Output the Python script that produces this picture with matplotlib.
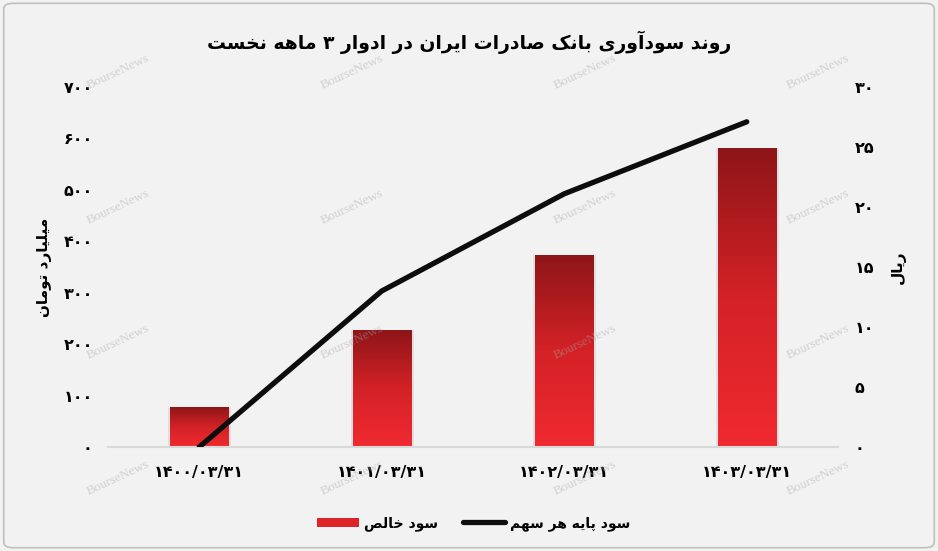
import matplotlib
matplotlib.use("Agg")
import matplotlib.pyplot as plt
import numpy as np
from matplotlib.colors import LinearSegmentedColormap
from matplotlib.patches import FancyBboxPatch, Patch
from matplotlib.lines import Line2D

# --- data -------------------------------------------------------------
periods = ["۱۴۰۰/۰۳/۳۱", "۱۴۰۱/۰۳/۳۱", "۱۴۰۲/۰۳/۳۱", "۱۴۰۳/۰۳/۳۱"]
net_profit = [76, 227, 373, 581]      # میلیارد تومان
eps = [0, 13.0, 21.1, 27.1]           # ریال
left_ticks = [0, 100, 200, 300, 400, 500, 600, 700]
right_ticks = [0, 5, 10, 15, 20, 25, 30]

title = "روند سودآوری بانک صادرات ایران در ادوار ۳ ماهه نخست"
left_label = "میلیارد تومان"
right_label = "ریال"
bar_name = "سود خالص"
line_name = "سود پایه هر سهم"

# --- minimal persian shaping (matplotlib has no bidi/shaping) ----------
# char: (isolated, final, initial, medial); right-joining letters have no initial/medial
FORMS = {
    "ا": ("\uFE8D", "\uFE8E", None, None),
    "آ": ("\uFE81", "\uFE82", None, None),
    "ب": ("\uFE8F", "\uFE90", "\uFE91", "\uFE92"),
    "پ": ("\uFB56", "\uFB57", "\uFB58", "\uFB59"),
    "ت": ("\uFE95", "\uFE96", "\uFE97", "\uFE98"),
    "خ": ("\uFEA5", "\uFEA6", "\uFEA7", "\uFEA8"),
    "د": ("\uFEA9", "\uFEAA", None, None),
    "ر": ("\uFEAD", "\uFEAE", None, None),
    "ز": ("\uFEAF", "\uFEB0", None, None),
    "س": ("\uFEB1", "\uFEB2", "\uFEB3", "\uFEB4"),
    "ص": ("\uFEB9", "\uFEBA", "\uFEBB", "\uFEBC"),
    "ل": ("\uFEDD", "\uFEDE", "\uFEDF", "\uFEE0"),
    "م": ("\uFEE1", "\uFEE2", "\uFEE3", "\uFEE4"),
    "ن": ("\uFEE5", "\uFEE6", "\uFEE7", "\uFEE8"),
    "ه": ("\uFEE9", "\uFEEA", "\uFEEB", "\uFEEC"),
    "و": ("\uFEED", "\uFEEE", None, None),
    "ی": ("\uFBFC", "\uFBFD", "\uFBFE", "\uFBFF"),
    "ک": ("\uFB8E", "\uFB8F", "\uFB90", "\uFB91"),
}


def fa(text):
    out = []
    for i, ch in enumerate(text):
        if ch not in FORMS:
            out.append(ch)
            continue
        prev = text[i - 1] if i > 0 else ""
        nxt = text[i + 1] if i + 1 < len(text) else ""
        before = prev in FORMS and FORMS[prev][2] is not None
        after = FORMS[ch][2] is not None and nxt in FORMS
        f = FORMS[ch]
        if before and after:
            out.append(f[3])
        elif before:
            out.append(f[1])
        elif after:
            out.append(f[2])
        else:
            out.append(f[0])
    # visual order: reverse, keep digit runs left-to-right
    tokens, cur, cur_ltr = [], "", None
    for ch in out:
        ltr = ch.isdigit() or ch in "/."
        if cur and ltr != cur_ltr:
            tokens.append((cur, cur_ltr))
            cur = ""
        cur += ch
        cur_ltr = ltr
    if cur:
        tokens.append((cur, cur_ltr))
    return "".join(t if ltr else t[::-1] for t, ltr in reversed(tokens))


def fa_num(v):
    return str(v).translate(str.maketrans("0123456789", "۰۱۲۳۴۵۶۷۸۹"))


# --- figure -----------------------------------------------------------
bg = "#f2f2f2"
plt.rcParams["font.family"] = ["DejaVu Sans"]
plt.rcParams["font.weight"] = "bold"

fig = plt.figure(figsize=(9.38, 5.51), dpi=100, facecolor=bg)
fig.patches.append(FancyBboxPatch((0.004, 0.006), 0.992, 0.988, boxstyle="round,pad=0,rounding_size=0.01",
                                  transform=fig.transFigure, facecolor="none", edgecolor="#bfbfbf", lw=1.2))

ax = fig.add_axes([0.1151, 0.1887, 0.7783, 0.6534])
ax.set_facecolor(bg)
x = np.arange(len(periods))

# soft shadow behind bars
ax.bar(x + 0.004, net_profit, width=0.345, color="#000000", alpha=0.07, zorder=1)
bars = ax.bar(x, net_profit, width=0.32, color="none", zorder=2)
cmap = LinearSegmentedColormap.from_list("redgrad", ["#f02a30", "#d42226", "#8e1518"])
grad = np.linspace(0, 1, 256).reshape(-1, 1)
for r in bars:
    ax.imshow(grad, extent=[r.get_x(), r.get_x() + r.get_width(), 0, r.get_height()],
              origin="lower", aspect="auto", cmap=cmap, zorder=2)

ax.set_xlim(-0.5, len(periods) - 0.5)
ax.set_ylim(0, 700)
ax.set_xticks(x)
ax.set_xticklabels(periods, fontsize=11.5, fontweight="bold")
ax.set_yticks(left_ticks)
ax.set_yticklabels([fa_num(v) for v in left_ticks], fontsize=11.5, fontweight="bold")
ax.tick_params(length=0, pad=13)
ax.tick_params(axis="y", pad=11)
for s in ["top", "right", "left"]:
    ax.spines[s].set_visible(False)
ax.spines["bottom"].set_color("#d9d9d9")
ax.spines["bottom"].set_linewidth(1.5)
ax.set_ylabel(fa(left_label), fontsize=11, fontweight="bold", labelpad=8)

ax2 = ax.twinx()
ax2.plot(x, eps, color="#0d0d0d", lw=3.8, solid_capstyle="round", zorder=3)
ax2.set_ylim(0, 30)
ax2.set_yticks(right_ticks)
ax2.set_yticklabels([fa_num(v) for v in right_ticks], fontsize=11.5, fontweight="bold")
ax2.tick_params(length=0, pad=12)
for s in ax2.spines.values():
    s.set_visible(False)
ax2.set_ylabel(fa(right_label), fontsize=11, fontweight="bold", labelpad=12)

fig.text(0.5, 0.924, fa(title), ha="center", va="center", fontsize=13.5, fontweight="bold")

# watermarks, drawn over everything, semi-transparent
for wx in [0.126, 0.375, 0.624, 0.872]:
    for wy in [0.869, 0.624, 0.379, 0.132]:
        fig.text(wx, wy, "BourseNews", rotation=25, fontsize=9.5, color="#a8a8a8", alpha=0.45,
                 family="Liberation Serif", fontweight="normal", ha="center", va="center", zorder=10)

handles = [Patch(facecolor="#dc2429"), Line2D([], [], color="#0d0d0d", lw=3.8, solid_capstyle="round")]
fig.legend(handles, [fa(bar_name), fa(line_name)], loc="center", bbox_to_anchor=(0.505, 0.05), ncol=2,
           frameon=False, fontsize=10, handlelength=3.0, handleheight=0.6, columnspacing=1.8,
           handletextpad=0.4)

fig.savefig("out.png", dpi=100, facecolor=bg)
